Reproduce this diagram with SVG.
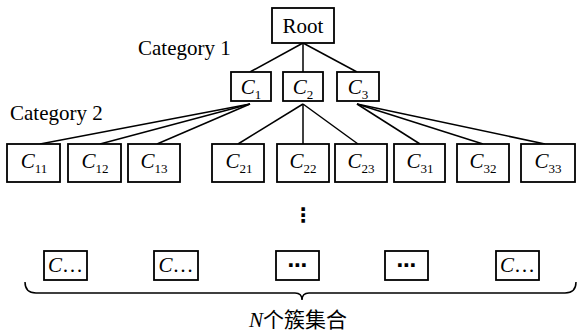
<svg xmlns="http://www.w3.org/2000/svg" width="577" height="335" viewBox="0 0 577 335">
<style>
.box{fill:#fff;stroke:#000;stroke-width:1.8}
.ln{stroke:#000;stroke-width:1.5;fill:none}
.t{font-family:"Liberation Serif","Times New Roman",serif;font-size:21px;fill:#000}
.c{font-family:"Liberation Serif","Times New Roman",serif;font-size:21px;fill:#000;text-anchor:middle}
.i{font-style:italic}
.s{font-size:13px}
.d{font-family:"DejaVu Sans",sans-serif;font-size:20px;font-weight:bold}
</style>
<rect width="577" height="335" fill="#fff"/>
<g id="connectors">
<line class="ln" x1="303" y1="43" x2="250" y2="72"/>
<line class="ln" x1="303" y1="43" x2="303" y2="72"/>
<line class="ln" x1="303" y1="43" x2="357" y2="72"/>
<line class="ln" x1="250" y1="104" x2="40" y2="144"/>
<line class="ln" x1="250" y1="104" x2="100" y2="144"/>
<line class="ln" x1="250" y1="104" x2="157" y2="144"/>
<line class="ln" x1="303" y1="104" x2="238" y2="144"/>
<line class="ln" x1="303" y1="104" x2="303" y2="144"/>
<line class="ln" x1="303" y1="104" x2="358" y2="144"/>
<line class="ln" x1="357" y1="104" x2="420" y2="144"/>
<line class="ln" x1="357" y1="104" x2="483" y2="144"/>
<line class="ln" x1="357" y1="104" x2="545" y2="144"/>
</g>
<g id="labels">
<text class="t" x="138" y="55">Category 1</text>
<text class="t" x="10" y="120">Category 2</text>
</g>
<g id="root"><rect class="box" x="272" y="8" width="62" height="35"/><text class="c" x="303" y="33">Root</text></g>
<g id="c1"><rect class="box" x="231" y="72" width="40" height="29"/><text class="c" x="251" y="94"><tspan class="i">C</tspan><tspan class="s" dy="5">1</tspan></text></g>
<g id="c2"><rect class="box" x="283" y="72" width="40" height="29"/><text class="c" x="303" y="94"><tspan class="i">C</tspan><tspan class="s" dy="5">2</tspan></text></g>
<g id="c3"><rect class="box" x="337" y="72" width="42" height="29"/><text class="c" x="358" y="94"><tspan class="i">C</tspan><tspan class="s" dy="5">3</tspan></text></g>
<g id="c11"><rect class="box" x="7" y="144" width="53" height="38"/><text class="c" x="34" y="168"><tspan class="i">C</tspan><tspan class="s" dy="5">11</tspan></text></g>
<g id="c12"><rect class="box" x="68" y="144" width="53" height="38"/><text class="c" x="95" y="168"><tspan class="i">C</tspan><tspan class="s" dy="5">12</tspan></text></g>
<g id="c13"><rect class="box" x="128" y="144" width="52" height="38"/><text class="c" x="154" y="168"><tspan class="i">C</tspan><tspan class="s" dy="5">13</tspan></text></g>
<g id="c21"><rect class="box" x="212" y="144" width="52" height="38"/><text class="c" x="239" y="168"><tspan class="i">C</tspan><tspan class="s" dy="5">21</tspan></text></g>
<g id="c22"><rect class="box" x="277" y="144" width="52" height="38"/><text class="c" x="303" y="168"><tspan class="i">C</tspan><tspan class="s" dy="5">22</tspan></text></g>
<g id="c23"><rect class="box" x="335" y="144" width="52" height="38"/><text class="c" x="361" y="168"><tspan class="i">C</tspan><tspan class="s" dy="5">23</tspan></text></g>
<g id="c31"><rect class="box" x="394" y="144" width="51" height="38"/><text class="c" x="420" y="168"><tspan class="i">C</tspan><tspan class="s" dy="5">31</tspan></text></g>
<g id="c32"><rect class="box" x="457" y="144" width="52" height="38"/><text class="c" x="483" y="168"><tspan class="i">C</tspan><tspan class="s" dy="5">32</tspan></text></g>
<g id="c33"><rect class="box" x="521" y="144" width="54" height="38"/><text class="c" x="548" y="168"><tspan class="i">C</tspan><tspan class="s" dy="5">33</tspan></text></g>
<g id="vdots"><text class="c d" x="303" y="222">⋮</text></g>
<g id="b1"><rect class="box" x="44" y="251" width="43" height="29"/><text class="c" x="65.5" y="272"><tspan class="i">C</tspan>…</text></g>
<g id="b2"><rect class="box" x="154" y="251" width="44" height="29"/><text class="c" x="176" y="272"><tspan class="i">C</tspan>…</text></g>
<g id="b3"><rect class="box" x="276" y="251" width="43" height="29"/><text class="c d" x="297.5" y="272">⋯</text></g>
<g id="b4"><rect class="box" x="385" y="251" width="43" height="29"/><text class="c d" x="406.5" y="272">⋯</text></g>
<g id="b5"><rect class="box" x="496" y="251" width="43" height="29"/><text class="c" x="517.5" y="272"><tspan class="i">C</tspan>…</text></g>
<g id="brace">
<path class="ln" d="M25,282 Q25,293 36,293 L295,293 Q302,293 302,300 Q302,293 309,293 L565,293 Q576,293 576,282"/>
<text class="t" x="249" y="327" style="font-size:21px"><tspan class="i">N</tspan><tspan style="font-family:'Noto Sans CJK SC',sans-serif">个簇集合</tspan></text>
</g>
</svg>
